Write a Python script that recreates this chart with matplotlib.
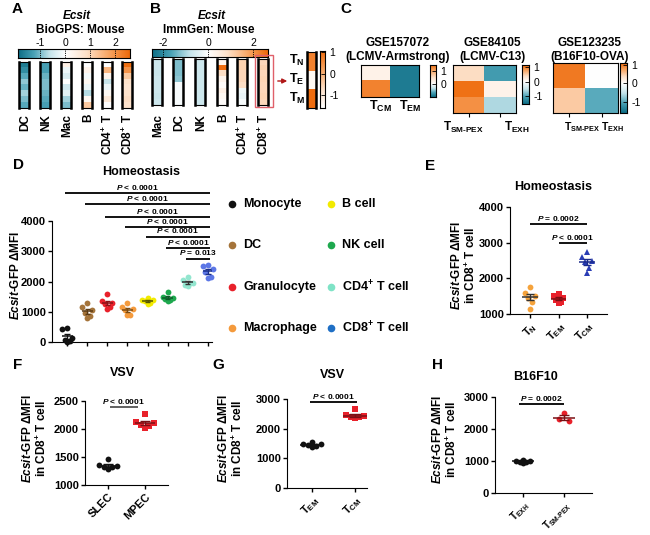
import numpy as np
import matplotlib
matplotlib.use("Agg")
import matplotlib.pyplot as plt
from matplotlib.colors import LinearSegmentedColormap, TwoSlopeNorm, Normalize
from matplotlib.patches import Rectangle, FancyArrowPatch
from matplotlib.lines import Line2D

plt.rcParams["font.family"] = ["Liberation Sans", "DejaVu Sans"]
plt.rcParams["font.weight"] = "bold"
plt.rcParams["mathtext.fontset"] = "custom"
plt.rcParams["mathtext.rm"] = "Liberation Sans:bold"
plt.rcParams["mathtext.it"] = "Liberation Sans:italic:bold"
plt.rcParams["mathtext.bf"] = "Liberation Sans:bold"
plt.rcParams["mathtext.default"] = "rm"

# ---------------- data ----------------
# A: BioGPS z-scores, rows top -> bottom
biogps_cells = ["DC", "NK", "Mac", "B", "CD4$^{+}$ T", "CD8$^{+}$ T"]
biogps_z = [
    [-1.7, -1.5, -1.2, -0.9, -1.1, -0.8, -1.0, -1.2],
    [-1.3, -1.3, -1.1, -1.0, -1.0, -1.1, -1.2, -1.3],
    [0.4, -0.2, -0.4, 0.0, -0.5, -0.3, -0.8, -1.0],
    [0.0, 0.3, -0.1, 0.2, -0.2, -0.7, 0.2, 1.2],
    [0.0, 1.5, 0.3, -0.6, -0.2, 0.2, 0.6, 0.0],
    [2.5, 2.0, 1.2, 0.8, 0.7, 0.8, 0.9, 0.8],
]
# B: ImmGen z-scores
immgen_cells = ["Mac", "DC", "NK", "B", "CD4$^{+}$ T", "CD8$^{+}$ T"]
immgen_z = [
    [-0.7, -0.7, -0.75, -0.7, -0.7, -0.7, -0.75, -0.7],
    [-1.3, -1.3, -1.3, -1.2, -0.1, -0.1, -0.1, -0.1],
    [-0.7, -0.7, -0.7, -0.7, -0.7, -0.7, -0.7, -0.7],
    [0.3, 2.6, 0.9, 0.3, 0.1, 0.4, 0.2, 0.1],
    [1.1, 1.1, 1.0, 1.0, 0.9, -0.2, -0.3, -0.1],
    [1.0, 1.1, 1.0, 1.05, 1.0, 1.0, 1.05, 1.0],
]
cd8_subsets = ["T$_N$", "T$_E$", "T$_M$"]
cd8_subset_z = [0.7, -1.4, 1.0]

# C: GEO datasets
gse_titles = ["GSE157072\n(LCMV-Armstrong)", "GSE84105\n(LCMV-C13)", "GSE123235\n(B16F10-OVA)"]
gse1_cols = ["T$_{CM}$", "T$_{EM}$"]
gse1_z = [[0.2, -0.9], [1.3, -0.9]]
gse2_cols = ["T$_{SM\u2010PEX}$", "T$_{EXH}$"]
gse2_z = [[0.4, -1.1], [1.1, 0.15], [0.9, -0.6]]
gse3_cols = ["T$_{SM\u2010PEX}$", "T$_{EXH}$"]
gse3_z = [[1.0, 0.0], [0.5, -1.0]]

# D: homeostasis, all cell types
homeo_cells = ["Monocyte", "DC", "Granulocyte", "Macrophage",
               "B cell", "NK cell", "CD4$^{+}$ T cell", "CD8$^{+}$ T cell"]
homeo_mfi = [
    [450, 440, 120, 60, 20, 10],
    [1300, 1150, 1050, 950, 850, 800],
    [1600, 1350, 1300, 1250, 1150, 1100],
    [1300, 1150, 1100, 1050, 900, 880],
    [1450, 1400, 1380, 1350, 1300, 1250],
    [1650, 1500, 1450, 1420, 1400, 1350],
    [2150, 2050, 1950, 1900, 1950, 1850],
    [2550, 2500, 2400, 2300, 2150, 2100],
]
homeo_p = ["P < 0.0001"] * 6 + ["P = 0.013"]
homeo_p_y = [4920, 4560, 4130, 3800, 3480, 3110, 2750]

# E: homeostasis, CD8 subsets
e_groups = ["T$_N$", "T$_{EM}$", "T$_{CM}$"]
e_mfi = [
    [1750, 1600, 1500, 1450, 1350, 1150],
    [1550, 1500, 1450, 1400, 1350, 1300],
    [2750, 2600, 2500, 2450, 2300, 2150],
]
# F: VSV SLEC / MPEC
f_groups = ["SLEC", "MPEC"]
f_mfi = [[1460, 1350, 1340, 1330, 1320, 1280],
         [2260, 2130, 2100, 2070, 2050, 2010]]
# G: VSV TEM / TCM
g_groups = ["T$_{EM}$", "T$_{CM}$"]
g_mfi = [[1560, 1500, 1470, 1450, 1420, 1380],
         [2650, 2450, 2420, 2400, 2380, 2350]]
# H: B16F10 TEXH / TSM-PEX
h_groups = ["T$_{EXH}$", "T$_{SM\u2010PEX}$"]
h_mfi = [[1030, 1010, 1000, 980, 960, 950],
         [2500, 2300, 2250]]

# ---------------- helpers ----------------
W, H = 650, 535
fig = plt.figure(figsize=(W / 100, H / 100), dpi=100)

div_cmap = LinearSegmentedColormap.from_list(
    "tealorange", ["#0d6d85", "#4aa2b6", "#c4e3ea", "#ffffff", "#fde0c8", "#f8a766", "#ee6a0b"])
or_cmap = LinearSegmentedColormap.from_list(
    "whiteorange", ["#ffffff", "#fde0c8", "#f8a766", "#ee6a0b"])


def box(x0, y0, x1, y1):
    return fig.add_axes([x0 / W, 1 - y1 / H, (x1 - x0) / W, (y1 - y0) / H])


def put(x, y, s, **kw):
    kw.setdefault("ha", "center")
    kw.setdefault("va", "center")
    return fig.text(x / W, 1 - y / H, s, **kw)


def strip(x0, y0, x1, y1, vals, norm, cmap=div_cmap):
    ax = box(x0, y0, x1, y1)
    ax.imshow(np.array(vals)[:, None], cmap=cmap, norm=norm, aspect="auto",
              interpolation="nearest")
    ax.set_xticks([])
    ax.set_yticks([])
    for s in ("left", "right"):
        ax.spines[s].set_linewidth(1.8)
    for s in ("top", "bottom"):
        ax.spines[s].set_linewidth(0.8)
    return ax


def hbar(x0, y0, x1, y1, lo, hi, norm, ticks):
    ax = box(x0, y0, x1, y1)
    ax.imshow(np.linspace(lo, hi, 256)[None, :], cmap=div_cmap, norm=norm,
              aspect="auto", extent=[lo, hi, 0, 1])
    ax.set_yticks([])
    ax.set_xticks(ticks)
    ax.set_xticklabels([str(t) for t in ticks], fontweight="normal", fontsize=7.5)
    ax.xaxis.tick_top()
    ax.tick_params(axis="x", length=0, pad=1)
    for t in ticks:
        ax.axvline(t, color="k", lw=0.6, ls=(0, (1.5, 1.2)))
    for s in ax.spines.values():
        s.set_linewidth(0.8)


def vbar(x0, y0, x1, y1, lo, hi, norm, ticks, cmap=div_cmap):
    ax = box(x0, y0, x1, y1)
    ax.imshow(np.linspace(lo, hi, 256)[:, None], cmap=cmap, norm=norm,
              aspect="auto", extent=[0, 1, lo, hi], origin="lower")
    ax.set_xticks([])
    ax.yaxis.tick_right()
    ax.set_yticks(ticks)
    ax.set_yticklabels([str(t) for t in ticks], fontweight="normal", fontsize=7.5)
    ax.tick_params(axis="y", direction="in", length=3, width=0.6, pad=3)
    for s in ax.spines.values():
        s.set_linewidth(0.8)


def heat(x0, y0, x1, y1, mat, norm, cols, label_x, label_y, marks=True, fs=9):
    ax = box(x0, y0, x1, y1)
    ax.imshow(np.array(mat), cmap=div_cmap, norm=norm, aspect="auto",
              interpolation="nearest")
    ax.set_yticks([])
    ax.set_xticks(range(len(cols)))
    ax.set_xticklabels([])
    ax.tick_params(axis="x", length=3 if marks else 0, width=0.8)
    for s in ax.spines.values():
        s.set_linewidth(0.8)
    for name, lx in zip(cols, label_x):
        put(lx, label_y, name, fontsize=fs)
    return ax


def dots(ax, groups, colors, lcolors, markers, spread, ms=4.2):
    pattern = {6: [0.0, -0.8, 0.8, -0.4, 0.4, 0.0],
               5: [0.0, -0.8, 0.8, -0.4, 0.4],
               3: [0.0, -0.6, 0.6]}
    for i, vals in enumerate(groups):
        vals = np.asarray(vals, float)
        n = len(vals)
        offs = np.array(pattern[n]) * spread
        ax.plot(i + offs, vals, ls="none", marker=markers[i], color=colors[i],
                ms=ms, mew=0, zorder=3, clip_on=False)
        m = vals.mean()
        se = vals.std(ddof=1) / np.sqrt(n)
        ax.hlines(m, i - 0.27, i + 0.27, color=lcolors[i], lw=1.1, zorder=4)
        ax.vlines(i, m - se, m + se, color=lcolors[i], lw=1.0, zorder=4)
        ax.hlines([m - se, m + se], i - 0.13, i + 0.13, color=lcolors[i], lw=1.0, zorder=4)


def style(ax, ylim, yticks, xlim, labels=None, rot=45, fs=8, xfs=8):
    ax.set_ylim(*ylim)
    ax.set_xlim(*xlim)
    ax.set_yticks(yticks)
    ax.set_yticklabels([str(t) for t in yticks], fontsize=fs)
    ax.spines["top"].set_visible(False)
    ax.spines["right"].set_visible(False)
    ax.tick_params(length=3, width=1, pad=1.5)
    if labels is None:
        ax.set_xticks([])
    else:
        ax.set_xticks(range(len(labels)))
        ax.set_xticklabels(labels, rotation=rot, ha="right", rotation_mode="anchor",
                           fontsize=xfs)


def pbar(ax, x0, x1, y, text, fs=6, lw=1.3, color="k"):
    ax.plot([x0, x1], [y, y], color=color, lw=lw, clip_on=False, solid_capstyle="butt")
    ax.annotate(text, ((x0 + x1) / 2, y), xytext=(0, 1), textcoords="offset points",
                ha="center", va="bottom", fontsize=fs, annotation_clip=False)


ylab2 = "$\\mathit{Ecsit}$-GFP \u0394MFI\nin CD8$^{+}$ T cell"

# ---------------- panel letters ----------------
for letter, (x, y) in {"A": (12, 9), "B": (150, 9), "C": (340, 9), "D": (13, 165),
                       "E": (425, 166), "F": (13, 365), "G": (212, 365),
                       "H": (432, 365)}.items():
    put(x, y, letter, fontsize=11, ha="left")

# ---------------- A ----------------
put(77, 16, "Ecsit", fontsize=8.5, style="italic")
put(80, 30, "BioGPS: Mouse", fontsize=8.5)
norm_a = TwoSlopeNorm(vmin=-1.9, vcenter=0, vmax=2.6)
hbar(18, 49, 130, 58, -1.9, 2.6, norm_a, [-1, 0, 1, 2])
a_x = [19, 40, 61, 82, 102, 122]
for x0, vals, name in zip(a_x, biogps_z, biogps_cells):
    strip(x0, 62, x0 + 10, 108, vals, norm_a)
    put(x0 + 6, 114, name, rotation=90, va="top", fontsize=8.5)

# ---------------- B ----------------
put(212, 16, "Ecsit", fontsize=8.5, style="italic")
put(209, 30, "ImmGen: Mouse", fontsize=8.5)
norm_b = TwoSlopeNorm(vmin=-2.5, vcenter=0, vmax=2.66)
hbar(152, 49, 268, 57, -2.5, 2.66, norm_b, [-2, 0, 2])
b_x = [152, 173, 195, 217, 237, 258]
for x0, vals, name in zip(b_x, immgen_z, immgen_cells):
    strip(x0, 59, x0 + 10, 105, vals, norm_b)
    put(x0 + 6, 114, name, rotation=90, va="top", fontsize=8.5)
fig.add_artist(Rectangle((255 / W, 1 - 107 / H), 18 / W, 52 / H, transform=fig.transFigure,
                         fill=False, edgecolor="#e0606a", lw=1.0))
fig.add_artist(FancyArrowPatch((275 / W, 1 - 81 / H), (290 / W, 1 - 81 / H),
                               transform=fig.transFigure, arrowstyle="-|>",
                               mutation_scale=7, color="#b01818", lw=1.0))
for name, y in zip(cd8_subsets, [60, 79, 98]):
    put(297, y, name, fontsize=9)
norm_t = Normalize(vmin=-1.6, vmax=1.05)
strip(307, 52, 316, 108, cd8_subset_z, norm_t, cmap=or_cmap)
vbar(320, 51, 325, 108, -1.6, 1.05, norm_t, [1, 0, -1], cmap=or_cmap)

# ---------------- C ----------------
put(398, 50, gse_titles[0], fontsize=8.5, linespacing=1.2)
put(492, 50, gse_titles[1], fontsize=8.5, linespacing=1.2)
put(590, 50, gse_titles[2], fontsize=8.5, linespacing=1.2)
n1 = TwoSlopeNorm(vmin=-1.0, vcenter=0, vmax=1.5)
heat(361, 65, 419, 97, gse1_z, n1, gse1_cols, [380, 410], 106, marks=False, fs=9)
vbar(430, 65, 436, 97, -1.0, 1.5, n1, [1, 0])
n2 = TwoSlopeNorm(vmin=-1.55, vcenter=0, vmax=1.15)
heat(453, 65, 516, 113, gse2_z, n2, gse2_cols, [463, 517], 127, fs=8.5)
vbar(522, 65, 529, 104, -1.55, 1.15, n2, [1, 0, -1])
n3 = TwoSlopeNorm(vmin=-1.6, vcenter=0, vmax=1.1)
heat(553, 63, 618, 113, gse3_z, n3, gse3_cols, [582, 612], 127, fs=7.5)
vbar(620, 63, 627, 113, -1.6, 1.1, n3, [1, 0, -1])

# ---------------- D ----------------
d_colors = ["#111111", "#a5743a", "#e8212b", "#f49a3c", "#f2ea00", "#1ea84e", "#93e6cf", "#5c77e6"]
d_lines = ["#111111", "#5a3a14", "#8a1218", "#7a4a10", "#555500", "#0e5a28", "#333333", "#1a2f8a"]
legend_colors = ["#111111", "#a5743a", "#e8212b", "#f49a3c", "#f2ea00", "#1ea84e", "#7fe3c6", "#1f6fc5"]
ax_d = box(52, 221, 212, 342)
dots(ax_d, homeo_mfi, d_colors, d_lines, ["o"] * 8, spread=0.32, ms=4.2)
style(ax_d, (0, 4000), [0, 1000, 2000, 3000, 4000], (-0.75, 7.2))
ax_d.set_xticks(range(8))
ax_d.set_xticklabels([])
for i, (p, y) in enumerate(zip(homeo_p, homeo_p_y)):
    pbar(ax_d, i - 0.1, 7.1, y, "$\\mathit{P}$" + p[1:], fs=6)
put(141, 172, "Homeostasis", fontsize=9)
put(16, 275, "$\\mathit{Ecsit}$-GFP \u0394MFI", rotation=90, fontsize=8.5)
for k, (name, c) in enumerate(zip(homeo_cells, legend_colors)):
    col, row = divmod(k, 4)
    mx = 232 if col == 0 else 331
    y = [204, 245, 287, 328][row]
    fig.add_artist(Line2D([mx / W], [1 - y / H], marker="o", color=c, ms=5.5, mew=0,
                          transform=fig.transFigure))
    put(mx + 11, y, name, ha="left", fontsize=9)

# ---------------- E ----------------
ax_e = box(510, 207, 607, 314)
dots(ax_e, e_mfi, ["#f5a33c", "#e8212b", "#2a3db5"], ["#333333", "#7a0f14", "#1a2a8a"],
     ["o", "s", "^"], spread=0.2, ms=4.2)
style(ax_e, (1000, 4000), [1000, 2000, 3000, 4000], (-0.7, 2.7), e_groups)
pbar(ax_e, 0, 2, 3520, "$\\mathit{P}$ = 0.0002", fs=6)
pbar(ax_e, 1, 2, 2990, "$\\mathit{P}$ < 0.0001", fs=6)
put(553, 187, "Homeostasis", fontsize=9)
put(464, 265, ylab2, rotation=90, fontsize=8.5, linespacing=1.0)

# ---------------- F ----------------
ax_f = box(85, 401, 168, 485)
dots(ax_f, f_mfi, ["#111111", "#e8212b"], ["#111111", "#7a0f14"], ["o", "s"],
     spread=0.3, ms=4.2)
style(ax_f, (1000, 2500), [1000, 1500, 2000, 2500], (-0.62, 1.62), f_groups)
pbar(ax_f, 0.05, 0.8, 2390, "$\\mathit{P}$ < 0.0001", fs=6, color="#555555")
put(122, 373, "VSV", fontsize=9)
put(35, 438, ylab2, rotation=90, fontsize=8.5, linespacing=1.0)

# ---------------- G ----------------
ax_g = box(287, 399, 367, 488)
dots(ax_g, g_mfi, ["#111111", "#e8212b"], ["#111111", "#7a0f14"], ["o", "s"],
     spread=0.25, ms=4.2)
style(ax_g, (0, 3000), [0, 1000, 2000, 3000], (-0.58, 1.28), g_groups)
pbar(ax_g, -0.05, 1.05, 2900, "$\\mathit{P}$ < 0.0001", fs=6)
put(332, 375, "VSV", fontsize=9)
put(231, 438, ylab2, rotation=90, fontsize=8.5, linespacing=1.0)

# ---------------- H ----------------
ax_h = box(495, 397, 592, 493)
dots(ax_h, h_mfi, ["#111111", "#e8212b"], ["#111111", "#7a0f14"], ["o", "o"],
     spread=0.2, ms=4.2)
style(ax_h, (0, 3000), [0, 1000, 2000, 3000], (-0.68, 1.68), h_groups, xfs=7)
pbar(ax_h, -0.1, 1.0, 2780, "$\\mathit{P}$ = 0.0002", fs=6)
put(535, 377, "B16F10", fontsize=9)
put(445, 439, ylab2, rotation=90, fontsize=8.5, linespacing=1.0)

fig.savefig("out.png", dpi=100)
